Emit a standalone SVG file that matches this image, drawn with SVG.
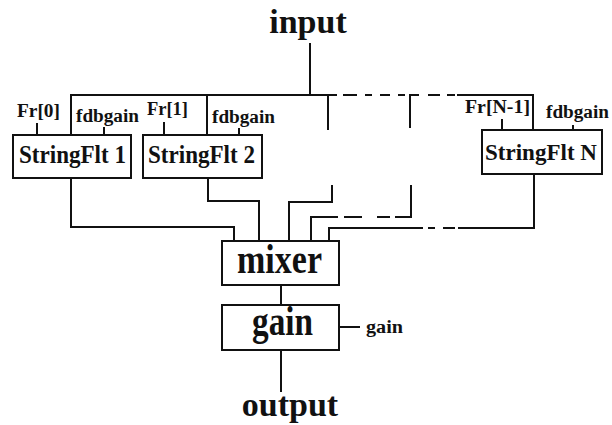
<svg xmlns="http://www.w3.org/2000/svg" width="612" height="425" viewBox="0 0 612 425">
<style>
.ln{fill:none;stroke:#111;stroke-width:2;stroke-linecap:butt;stroke-linejoin:miter}
.box{fill:#fff;stroke:#111;stroke-width:2}
text{font-family:"Liberation Serif","Times New Roman",serif;font-weight:bold;fill:#111}
.title{font-size:34px;text-anchor:middle}
.big{font-size:42px}
.mid{font-size:25px}
.midn{font-size:23.5px}
.sm{font-size:18px}
</style>
<rect width="612" height="425" fill="#fff"/>
<g id="connectors">
<path class="ln" d="M310,43V95"/>
<path class="ln" d="M71,135V95H337"/>
<path class="ln" d="M207,95V135"/>
<path class="ln" d="M328,95V130"/>
<path class="ln" d="M343,95H357M365,95H372M380,95H390M398,95H405"/>
<path class="ln" d="M410,128V95H419"/>
<path class="ln" d="M428,95H440M447,95H455"/>
<path class="ln" d="M457,95H533V130"/>
<path class="ln" d="M37,123V135M104,127V135M164,122V135M239,128V135M502,119V130M573,125V130"/>
<path class="ln" d="M71,178V227H234V241"/>
<path class="ln" d="M208,178V201H259V241"/>
<path class="ln" d="M332,185V202H289V241"/>
<path class="ln" d="M411,185V217H395"/>
<path class="ln" d="M390,217H377M362,217H344"/>
<path class="ln" d="M338,217H311V241"/>
<path class="ln" d="M534,174V228H458"/>
<path class="ln" d="M455,228H443M435,228H428"/>
<path class="ln" d="M423,228H329V241"/>
<path class="ln" d="M281,285V305"/>
<path class="ln" d="M281,350V392"/>
<path class="ln" d="M340,327H360"/>
</g>
<g id="title-input"><text class="title" x="308" y="33">input</text></g>
<g id="title-output"><text class="title" x="290" y="416">output</text></g>
<g id="sf1">
<rect class="box" x="13" y="135" width="118" height="43"/>
<text class="mid" x="19" y="163" textLength="107" lengthAdjust="spacingAndGlyphs">StringFlt 1</text>
<text class="sm" x="17" y="117" textLength="43" lengthAdjust="spacingAndGlyphs">Fr[0]</text>
<text class="sm" x="76" y="122" textLength="63" lengthAdjust="spacingAndGlyphs">fdbgain</text>
</g>
<g id="sf2">
<rect class="box" x="143" y="135" width="119" height="43"/>
<text class="mid" x="148" y="163" textLength="107" lengthAdjust="spacingAndGlyphs">StringFlt 2</text>
<text class="sm" x="147" y="115" textLength="41" lengthAdjust="spacingAndGlyphs">Fr[1]</text>
<text class="sm" x="212" y="123" textLength="63" lengthAdjust="spacingAndGlyphs">fdbgain</text>
</g>
<g id="sfN">
<rect class="box" x="482" y="130" width="120" height="44"/>
<text class="midn" x="485" y="160" textLength="112" lengthAdjust="spacingAndGlyphs">StringFlt N</text>
<text class="sm" x="465" y="113" textLength="65" lengthAdjust="spacingAndGlyphs">Fr[N-1]</text>
<text class="sm" x="546" y="118" textLength="63" lengthAdjust="spacingAndGlyphs">fdbgain</text>
</g>
<g id="mixer">
<rect class="box" x="222" y="241" width="117" height="44"/>
<text class="big" x="237" y="273" textLength="85" lengthAdjust="spacingAndGlyphs">mixer</text>
</g>
<g id="gain">
<rect class="box" x="222" y="305" width="117" height="45"/>
<text class="big" x="252" y="335" textLength="61" lengthAdjust="spacingAndGlyphs">gain</text>
<text class="sm" x="366" y="333" textLength="37" lengthAdjust="spacingAndGlyphs">gain</text>
</g>
</svg>
